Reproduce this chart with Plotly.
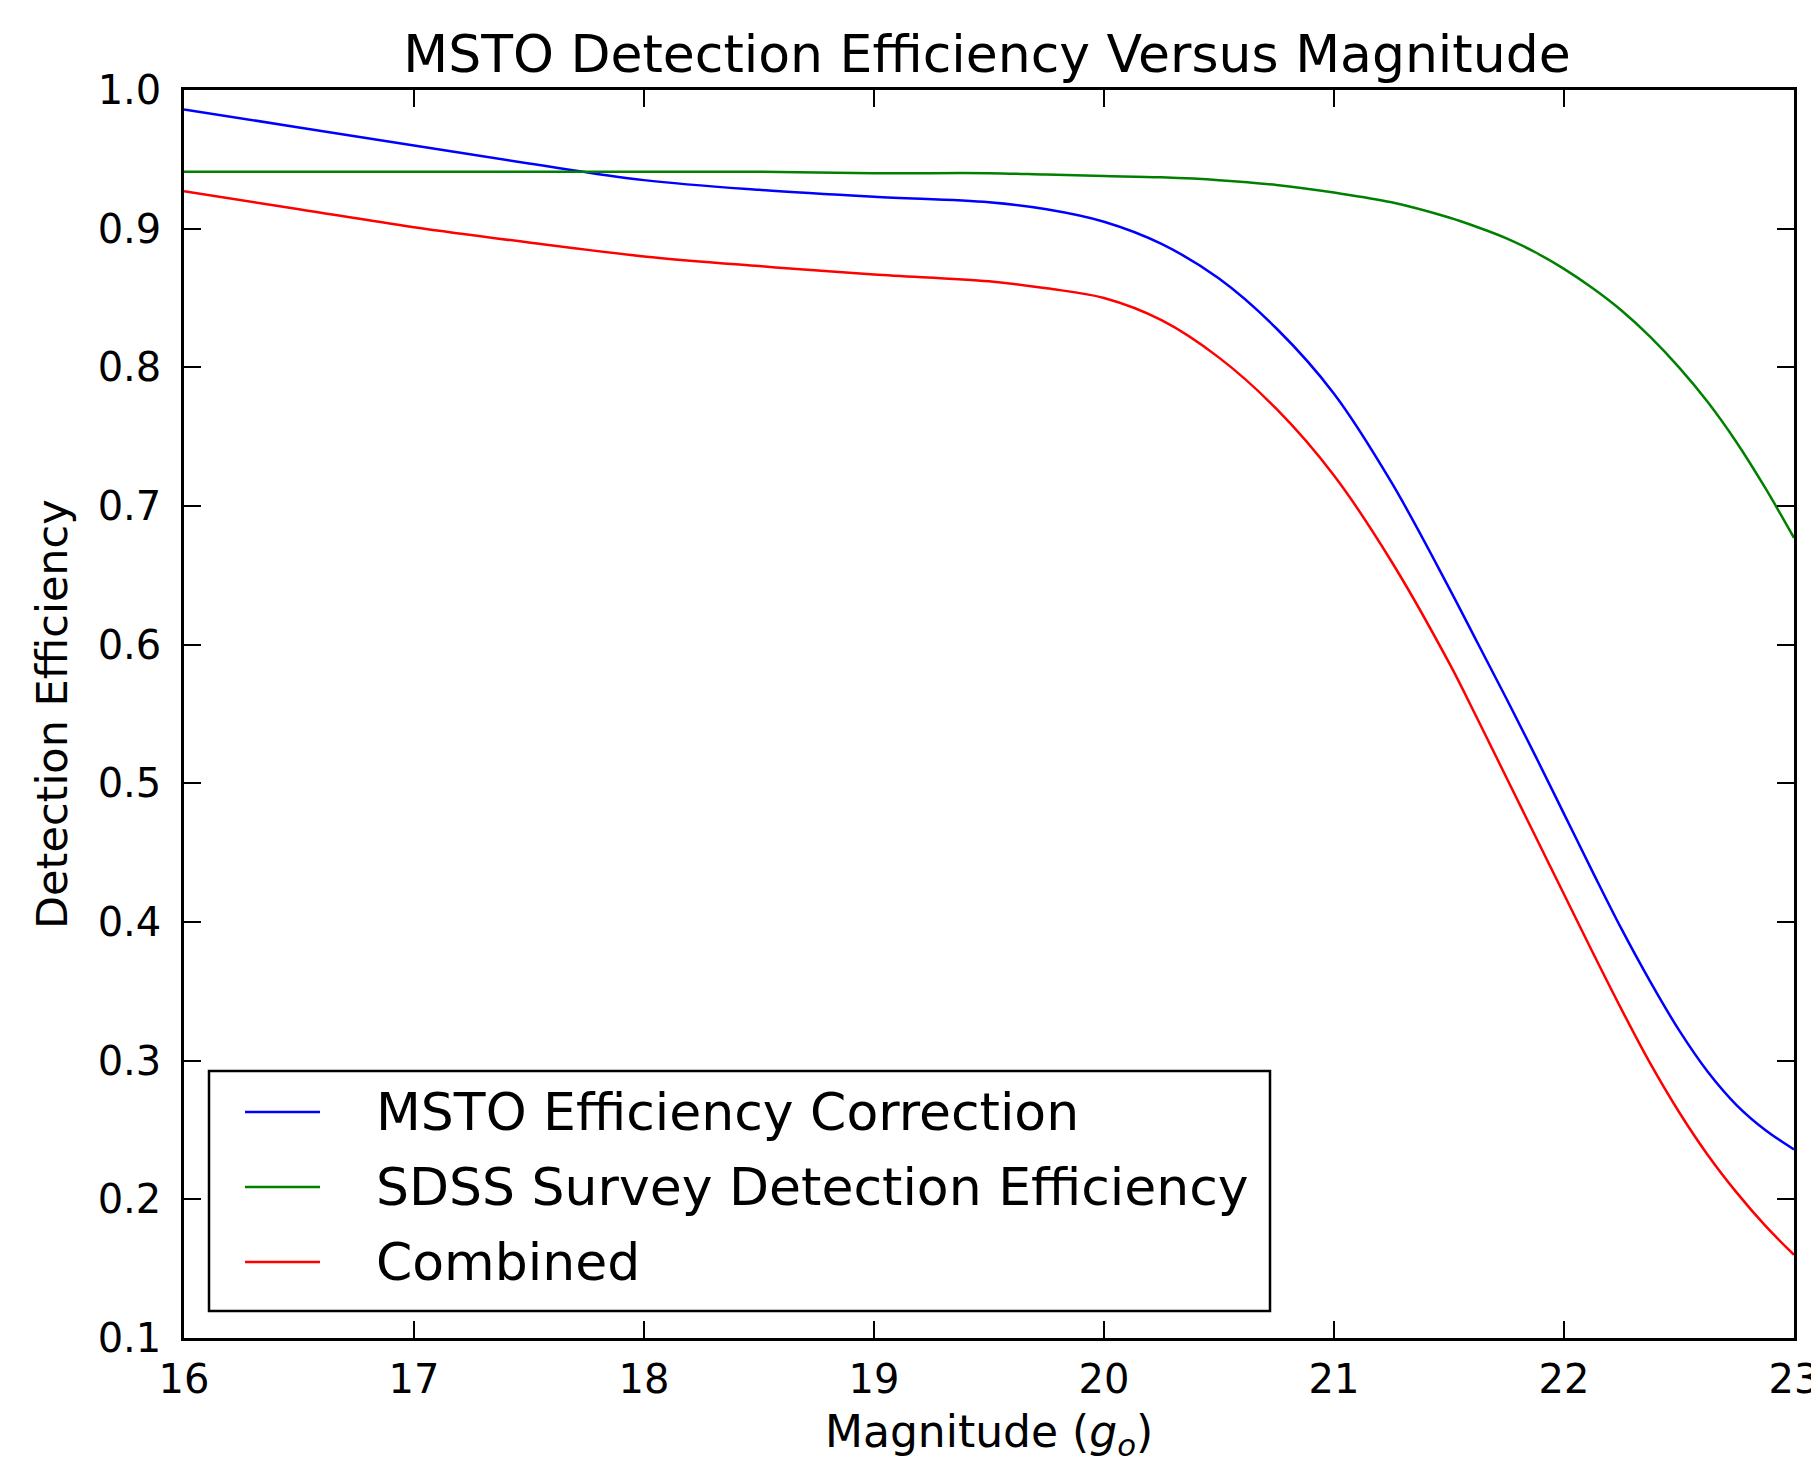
import plotly.graph_objects as go

# ---- data ----
magnitude = [16.0, 16.5, 17.0, 17.5, 18.0, 18.5, 19.0, 19.5, 19.75, 20.0, 20.25, 20.5,
             20.75, 21.0, 21.25, 21.5, 21.625, 21.75, 21.875, 22.0, 22.125, 22.25,
             22.375, 22.5, 22.625, 22.75, 22.875, 23.0]
msto_eff = [0.986, 0.973, 0.960, 0.947, 0.935, 0.928, 0.923, 0.919, 0.914, 0.905, 0.889, 0.864,
            0.828, 0.781, 0.717, 0.641, 0.601, 0.561, 0.520, 0.478, 0.436, 0.395,
            0.357, 0.322, 0.292, 0.268, 0.250, 0.236]
sdss_eff = [0.941, 0.941, 0.941, 0.941, 0.941, 0.941, 0.940, 0.940, 0.939, 0.938, 0.937, 0.935,
            0.9315, 0.926, 0.919, 0.908, 0.901, 0.893, 0.883, 0.871, 0.857, 0.841,
            0.822, 0.800, 0.775, 0.746, 0.713, 0.677]
combined = [0.927, 0.914, 0.901, 0.890, 0.880, 0.873, 0.867, 0.862, 0.857, 0.850, 0.834, 0.807,
            0.770, 0.722, 0.660, 0.587, 0.546, 0.504, 0.462, 0.420, 0.378, 0.337,
            0.298, 0.263, 0.232, 0.205, 0.181, 0.160]

series_names = ["MSTO Efficiency Correction", "SDSS Survey Detection Efficiency", "Combined"]
series_colors = ["#0000ff", "#008000", "#ff0000"]
series_values = [msto_eff, sdss_eff, combined]

x_ticks = [16, 17, 18, 19, 20, 21, 22, 23]
y_ticks = [0.1, 0.2, 0.3, 0.4, 0.5, 0.6, 0.7, 0.8, 0.9, 1.0]

FONT = "DejaVu Sans"

fig = go.Figure()
for name, col, vals in zip(series_names, series_colors, series_values):
    fig.add_trace(go.Scatter(x=magnitude, y=vals, mode="lines", name=name,
                             line=dict(color=col, width=2.5, shape="spline", smoothing=1.0),
                             showlegend=False))

W, H = 1811, 1463
L, R, T, B = 184, 17, 90, 125
PW, PH = W - L - R, H - T - B

def px_x(px):
    return (px - L) / PW

def px_y(py):
    return (H - B - py) / PH

shapes = []
annotations = []

# legend box (matplotlib-style)
shapes.append(dict(type="rect", xref="paper", yref="paper",
                   x0=px_x(209), x1=px_x(1270), y0=px_y(1311), y1=px_y(1071),
                   line=dict(color="black", width=2.5), fillcolor="white", layer="above"))
entry_y = [1112, 1187, 1262]
for name, col, ey in zip(series_names, series_colors, entry_y):
    shapes.append(dict(type="line", xref="paper", yref="paper",
                       x0=px_x(245), x1=px_x(320), y0=px_y(ey), y1=px_y(ey),
                       line=dict(color=col, width=2.5), layer="above"))
    annotations.append(dict(text=name, xref="paper", yref="paper",
                            x=px_x(374), y=px_y(ey), xanchor="left", yanchor="middle",
                            showarrow=False, font=dict(family=FONT, size=52, color="black")))

# axis titles
annotations.append(dict(text="Magnitude (<i>g</i><sub><i>o</i></sub>)", xref="paper", yref="paper",
                        x=0.5, y=0, yanchor="middle", yshift=-96, showarrow=False,
                        font=dict(family=FONT, size=44, color="black")))
annotations.append(dict(text="Detection Efficiency", xref="paper", yref="paper",
                        x=0, y=0.5, xanchor="center", yanchor="middle", xshift=-(L - 52),
                        textangle=-90, showarrow=False,
                        font=dict(family=FONT, size=43, color="black")))

axis_common = dict(showline=True, linecolor="black", linewidth=2.5, mirror="ticks",
                   ticks="inside", ticklen=17, tickwidth=1.5, tickcolor="black",
                   showgrid=False, zeroline=False, ticklabeloverflow="allow",
                   automargin=False,
                   tickfont=dict(family=FONT, size=40, color="black"))

fig.update_layout(
    width=W, height=H,
    margin=dict(l=L, r=R, t=T, b=B, autoexpand=False),
    paper_bgcolor="white", plot_bgcolor="white",
    title=dict(text="MSTO Detection Efficiency Versus Magnitude",
               font=dict(family=FONT, size=52, color="black"),
               x=987 / W, xanchor="center", xref="container",
               y=1 - 54 / H, yanchor="middle", yref="container"),
    xaxis=dict(range=[16, 23], tickvals=x_ticks, ticktext=[str(v) for v in x_ticks],
               ticklabelstandoff=4, **axis_common),
    yaxis=dict(range=[0.1, 1.0], tickvals=y_ticks, ticktext=[f"{v:.1f}" for v in y_ticks],
               ticklabelstandoff=12, **axis_common),
    shapes=shapes, annotations=annotations, showlegend=False,
)

fig.write_html("out.html", config={"displayModeBar": False},
               post_script="document.body.style.margin='0';document.body.style.overflow='hidden';")
